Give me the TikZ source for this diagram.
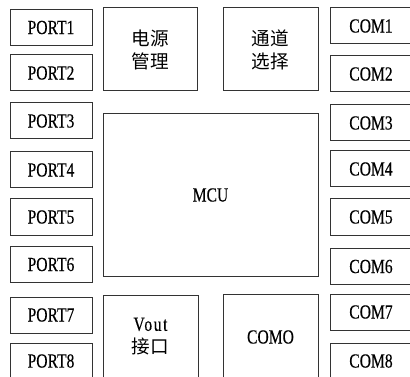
\documentclass[tikz,border=0pt]{standalone}
\usepackage{fontspec}
\setmainfont[FakeStretch=0.78,FakeBold=0.3]{Liberation Serif}
\newfontfamily\cjk[Scale=0.93]{Noto Sans CJK SC}
\begin{document}
\begin{tikzpicture}[x=1pt,y=-1pt,
  box/.style={draw=black!80,line width=1pt,rectangle,inner sep=0pt,align=center,
    font=\fontsize{20}{23}\selectfont},
  port/.style={box,minimum width=82,minimum height=36},
  blk/.style={box,minimum width=95,minimum height=83}]
\clip (0,0) rectangle (410,377);
\fill[white] (0,0) rectangle (410,377);
% left ports
\node[port] (p1) at (51,27.5) {PORT1};
\node[port] (p2) at (51,73) {PORT2};
\node[port] (p3) at (51,121) {PORT3};
\node[port] (p4) at (51,170) {PORT4};
\node[port] (p5) at (51,217) {PORT5};
\node[port] (p6) at (51,264.5) {PORT6};
\node[port] (p7) at (51,315) {PORT7};
\node[port] (p8) at (51,361) {PORT8};
% right COMs
\node[port] (c1) at (371,26) {COM1};
\node[port] (c2) at (371,74) {COM2};
\node[port] (c3) at (371,123) {COM3};
\node[port] (c4) at (371,169) {COM4};
\node[port] (c5) at (371,217) {COM5};
\node[port] (c6) at (371,266.5) {COM6};
\node[port] (c7) at (371,312) {COM7};
\node[port] (c8) at (371,361) {COM8};
% center blocks
\node[blk,minimum width=94] (pwr) at (150,49.5) {\cjk 电源\\\cjk 管理};
\node[blk] (sel) at (270.5,49.5) {\cjk 通道\\\cjk 选择};
\node[box,minimum width=215,minimum height=162] (mcu) at (210.5,195) {MCU};
\node[blk] (vout) at (150.5,336.5) {{\addfontfeatures{LetterSpace=8}Vout}\\\cjk 接口};
\node[blk,minimum height=86] (como) at (270.5,337) {COMO};
\end{tikzpicture}
\end{document}
